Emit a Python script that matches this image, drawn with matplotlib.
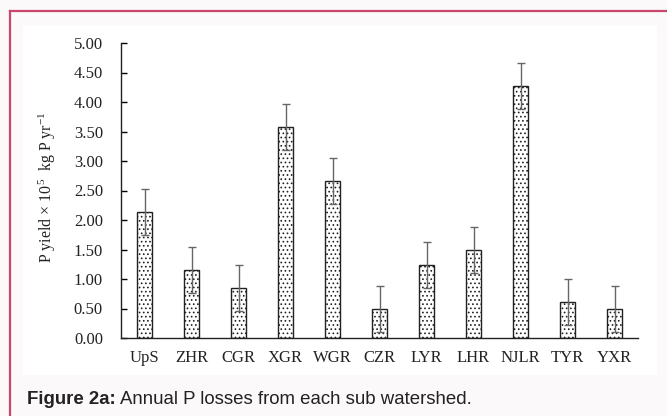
import numpy as np
import matplotlib.pyplot as plt
from matplotlib.patches import Rectangle
from matplotlib.lines import Line2D

# annual P yield per sub watershed (x 10^5 kg P / yr)
sites = ['UpS', 'ZHR', 'CGR', 'XGR', 'WGR', 'CZR', 'LYR', 'LHR', 'NJLR', 'TYR', 'YXR']
p_yield = [2.14, 1.16, 0.85, 3.58, 2.66, 0.49, 1.24, 1.49, 4.27, 0.61, 0.49]
p_err = [0.39, 0.39, 0.39, 0.39, 0.39, 0.39, 0.39, 0.39, 0.39, 0.39, 0.39]
yticks = [0.0, 0.5, 1.0, 1.5, 2.0, 2.5, 3.0, 3.5, 4.0, 4.5, 5.0]

plt.rcParams['hatch.linewidth'] = 0.7
plt.rcParams['mathtext.fontset'] = 'custom'
plt.rcParams['mathtext.rm'] = 'Liberation Serif'
plt.rcParams['mathtext.it'] = 'Liberation Serif:italic'
fig = plt.figure(figsize=(6.67, 4.16), dpi=100)
fig.patch.set_facecolor('#fbf9f9')

# white panel + crimson frame lines
fig.patches.append(Rectangle((23/667, 1-375/416), 634/667, 349/416,
                             transform=fig.transFigure, facecolor='white',
                             edgecolor='none', zorder=-5))
fig.lines.append(Line2D([10/667, 10/667], [0, 1-11/416], transform=fig.transFigure,
                        color='#c8456b', lw=1.6, zorder=-4))
fig.lines.append(Line2D([10/667, 1], [1-11/416, 1-11/416], transform=fig.transFigure,
                        color='#c8456b', lw=1.6, zorder=-4))

ax = fig.add_axes([121/667, 1-338/416, 517/667, 295/416])
ax.set_zorder(2)
ax.set_facecolor('none')
x = np.arange(len(sites))
ax.bar(x, p_yield, width=0.32, color='white', edgecolor='#222222', linewidth=1.0,
       hatch='....', zorder=2)
ax.errorbar(x, p_yield, yerr=p_err, fmt='none', ecolor='#666666', elinewidth=1.0,
            capsize=3, capthick=1.0, zorder=3)

ax.set_xlim(-0.5, len(sites) - 0.5)
ax.set_ylim(0, 5.0)
ax.set_yticks(yticks)
ax.set_yticklabels(['%.2f' % v for v in yticks])
ax.set_xticks(x)
ax.set_xticklabels(sites)
ax.tick_params(axis='y', direction='in', length=4, width=1, pad=13,
               labelsize=12, labelcolor='#222222')
ax.tick_params(axis='x', length=0, pad=9, labelsize=12, labelcolor='#222222')
for lbl in ax.get_xticklabels() + ax.get_yticklabels():
    lbl.set_family('Liberation Serif')
for s in ['top', 'right']:
    ax.spines[s].set_visible(False)
for s in ['left', 'bottom']:
    ax.spines[s].set_color('#222222')
    ax.spines[s].set_linewidth(1.0)

ax.set_ylabel('P yield \u00d7 10$^{5}$  kg P yr$^{-1}$', family='Liberation Serif',
              fontsize=11.5, color='#222222')
ax.yaxis.set_label_coords(-0.122, 0.51)

t1 = fig.text(27/667, 1-400/416, 'Figure 2a:', family='Liberation Sans',
              fontweight='bold', fontsize=13.4, color='#222222', va='center')
fig.canvas.draw()
bb = t1.get_window_extent()
fig.text(bb.x1 / 667 + 4/667, 1-400/416, 'Annual P losses from each sub watershed.',
         family='Liberation Sans', fontsize=13.4, color='#222222', va='center')

fig.savefig('out.png', dpi=100, facecolor=fig.get_facecolor())
